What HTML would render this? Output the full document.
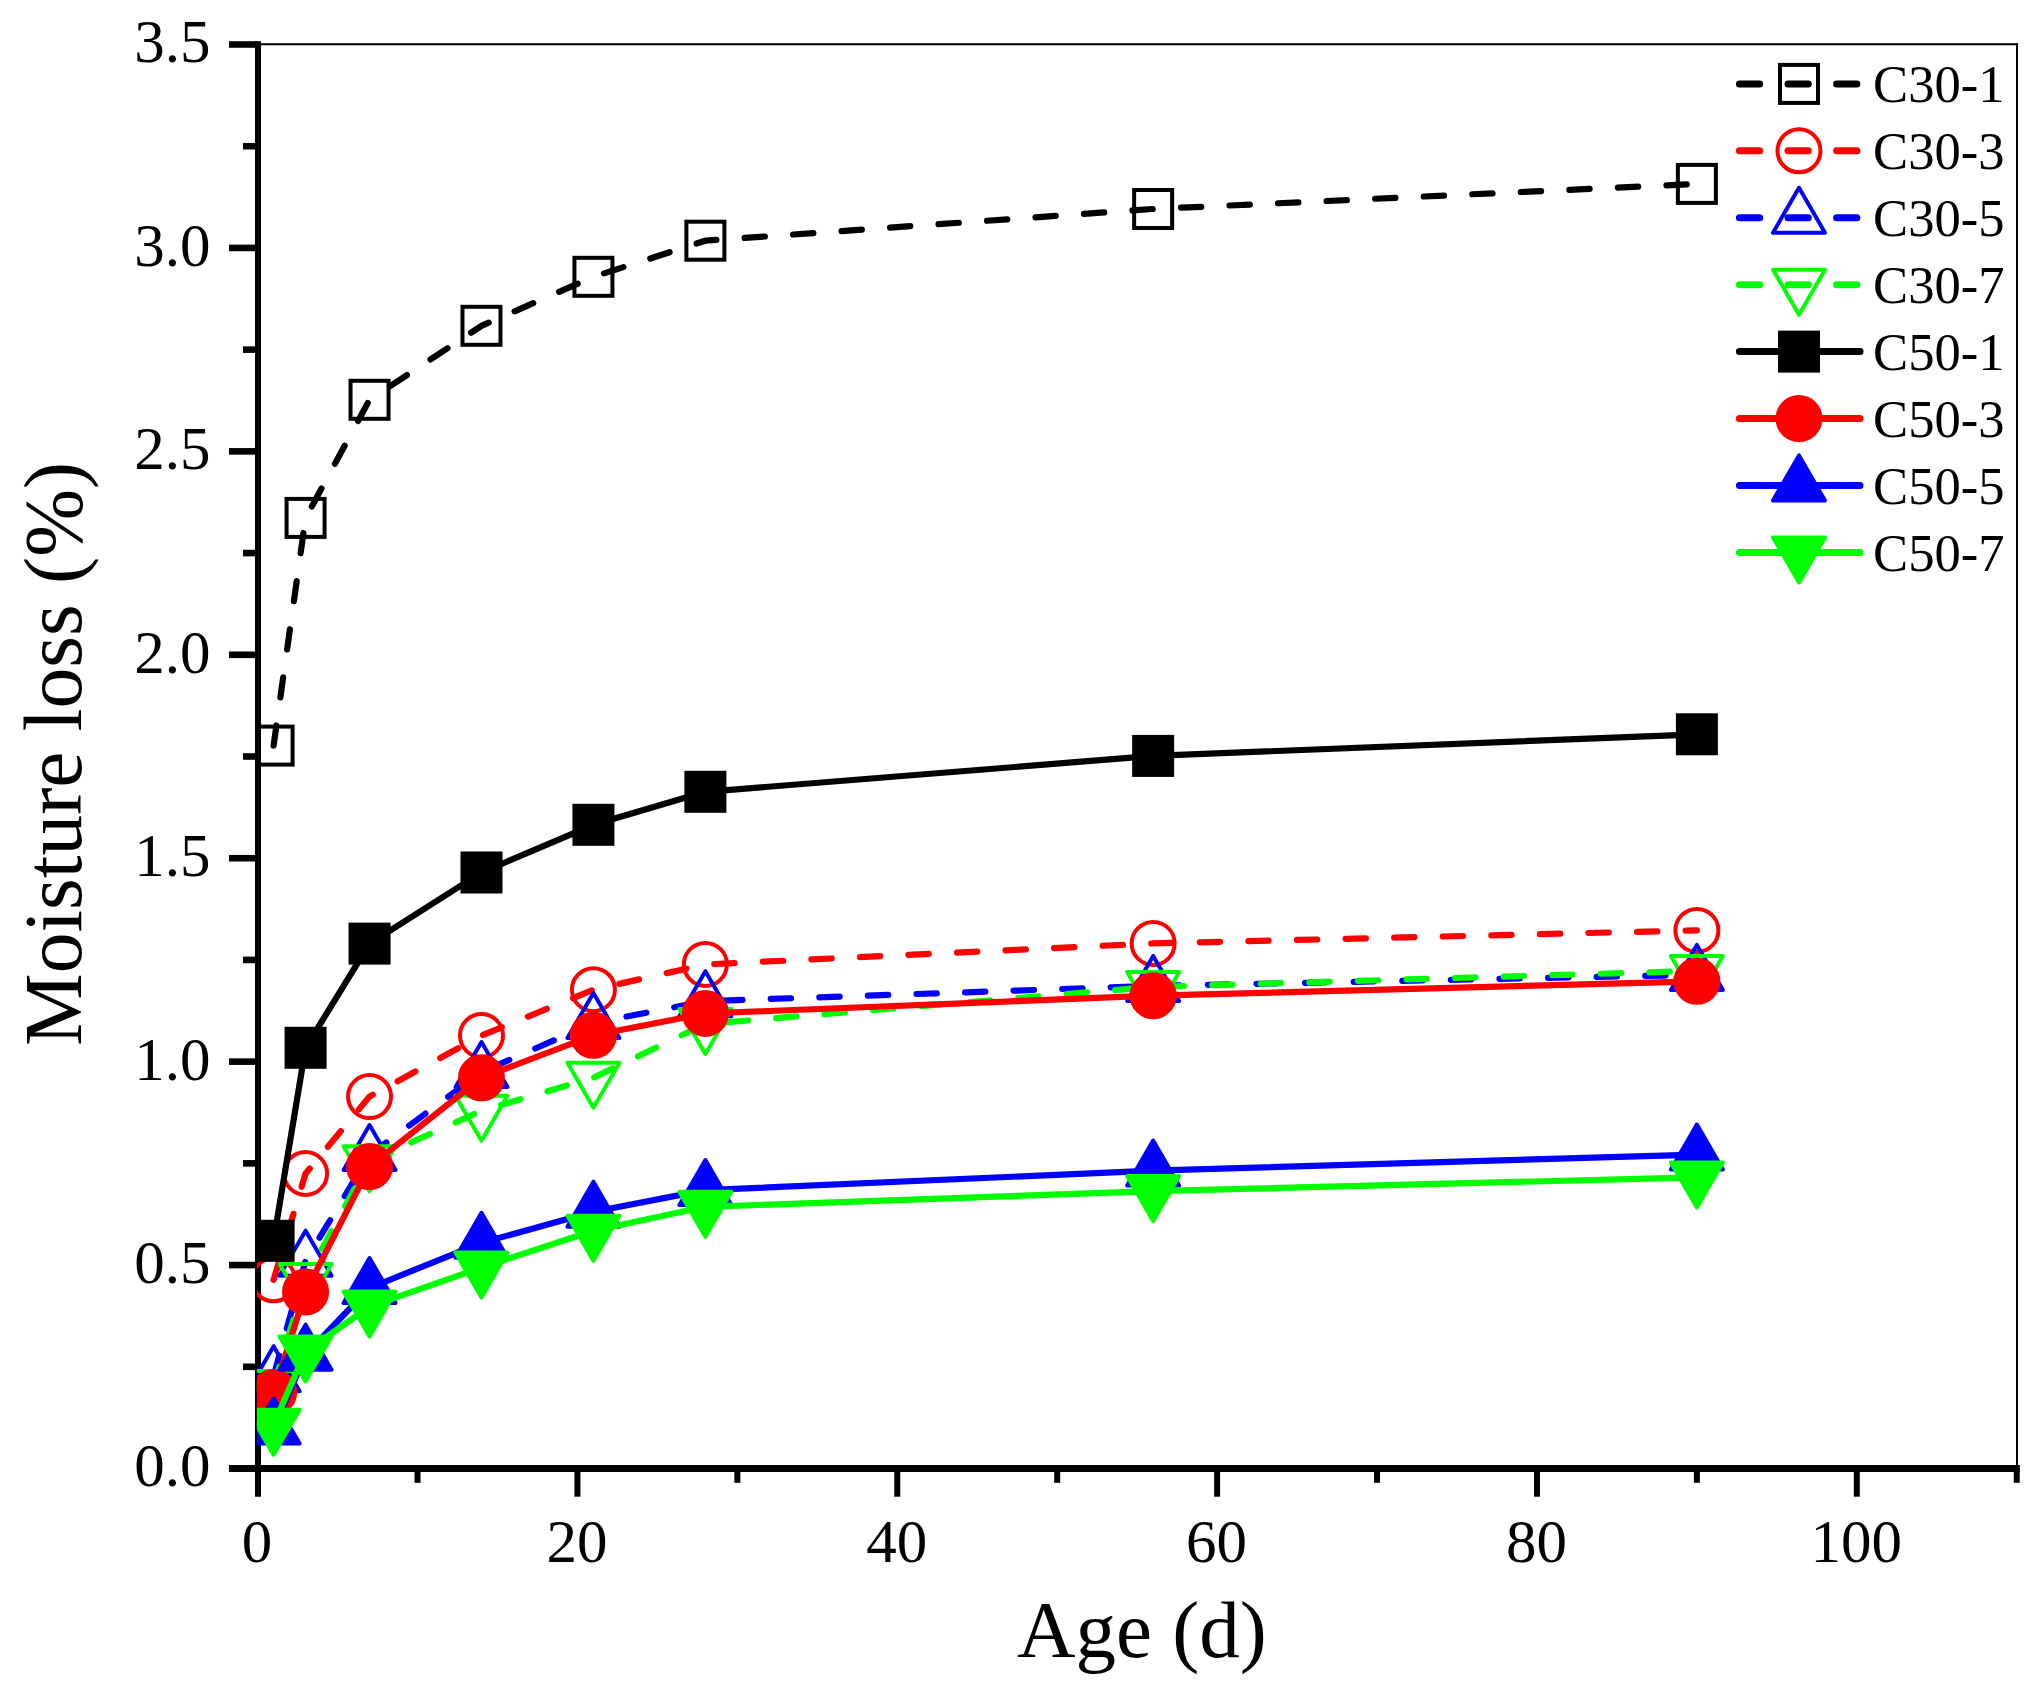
<!DOCTYPE html>
<html><head><meta charset="utf-8"><title>Moisture loss vs Age</title>
<style>
html,body{margin:0;padding:0;background:#fff;}
body{width:2038px;height:1703px;overflow:hidden;}
svg{display:block;}
text{font-family:"Liberation Serif","Times New Roman",serif;fill:#000;}
.tk{font-size:61px;}
.lg{font-size:52.6px;}
.ti{font-size:81px;}
</style></head><body>
<svg width="2038" height="1703" viewBox="0 0 2038 1703">
<rect width="2038" height="1703" fill="#fff"/>
<defs><clipPath id="pc"><rect x="256.8" y="40" width="1761.2" height="1431.5"/></clipPath></defs>

<line x1="258.0" y1="44.3" x2="2018" y2="44.3" stroke="#000" stroke-width="2"/>
<line x1="2017" y1="43.3" x2="2017" y2="1468.5" stroke="#000" stroke-width="2"/>
<line x1="258.0" y1="41.3" x2="258.0" y2="1496.7" stroke="#000" stroke-width="6.0"/>
<line x1="229" y1="1468.5" x2="2019.8" y2="1468.5" stroke="#000" stroke-width="7"/>
<line x1="243" y1="1366.79" x2="258.0" y2="1366.79" stroke="#000" stroke-width="6.6"/>
<line x1="229" y1="1265.07" x2="258.0" y2="1265.07" stroke="#000" stroke-width="6.6"/>
<line x1="243" y1="1163.36" x2="258.0" y2="1163.36" stroke="#000" stroke-width="6.6"/>
<line x1="229" y1="1061.64" x2="258.0" y2="1061.64" stroke="#000" stroke-width="6.6"/>
<line x1="243" y1="959.93" x2="258.0" y2="959.93" stroke="#000" stroke-width="6.6"/>
<line x1="229" y1="858.21" x2="258.0" y2="858.21" stroke="#000" stroke-width="6.6"/>
<line x1="243" y1="756.5" x2="258.0" y2="756.5" stroke="#000" stroke-width="6.6"/>
<line x1="229" y1="654.79" x2="258.0" y2="654.79" stroke="#000" stroke-width="6.6"/>
<line x1="243" y1="553.07" x2="258.0" y2="553.07" stroke="#000" stroke-width="6.6"/>
<line x1="229" y1="451.36" x2="258.0" y2="451.36" stroke="#000" stroke-width="6.6"/>
<line x1="243" y1="349.64" x2="258.0" y2="349.64" stroke="#000" stroke-width="6.6"/>
<line x1="229" y1="247.93" x2="258.0" y2="247.93" stroke="#000" stroke-width="6.6"/>
<line x1="243" y1="146.21" x2="258.0" y2="146.21" stroke="#000" stroke-width="6.6"/>
<line x1="229" y1="44.5" x2="258.0" y2="44.5" stroke="#000" stroke-width="6.6"/>
<text class="tk" x="210.5" y="1486.4" text-anchor="end">0.0</text>
<text class="tk" x="210.5" y="1282.97" text-anchor="end">0.5</text>
<text class="tk" x="210.5" y="1079.54" text-anchor="end">1.0</text>
<text class="tk" x="210.5" y="876.11" text-anchor="end">1.5</text>
<text class="tk" x="210.5" y="672.69" text-anchor="end">2.0</text>
<text class="tk" x="210.5" y="469.26" text-anchor="end">2.5</text>
<text class="tk" x="210.5" y="265.83" text-anchor="end">3.0</text>
<text class="tk" x="210.5" y="62.4" text-anchor="end">3.5</text>
<line x1="417.52" y1="1468.5" x2="417.52" y2="1482.8" stroke="#000" stroke-width="6.0"/>
<line x1="577.44" y1="1468.5" x2="577.44" y2="1496.7" stroke="#000" stroke-width="6.0"/>
<line x1="737.36" y1="1468.5" x2="737.36" y2="1482.8" stroke="#000" stroke-width="6.0"/>
<line x1="897.28" y1="1468.5" x2="897.28" y2="1496.7" stroke="#000" stroke-width="6.0"/>
<line x1="1057.2" y1="1468.5" x2="1057.2" y2="1482.8" stroke="#000" stroke-width="6.0"/>
<line x1="1217.12" y1="1468.5" x2="1217.12" y2="1496.7" stroke="#000" stroke-width="6.0"/>
<line x1="1377.04" y1="1468.5" x2="1377.04" y2="1482.8" stroke="#000" stroke-width="6.0"/>
<line x1="1536.96" y1="1468.5" x2="1536.96" y2="1496.7" stroke="#000" stroke-width="6.0"/>
<line x1="1696.88" y1="1468.5" x2="1696.88" y2="1482.8" stroke="#000" stroke-width="6.0"/>
<line x1="1856.8" y1="1468.5" x2="1856.8" y2="1496.7" stroke="#000" stroke-width="6.0"/>
<line x1="2016.72" y1="1468.5" x2="2016.72" y2="1482.8" stroke="#000" stroke-width="6.0"/>
<text class="tk" x="257.1" y="1562" text-anchor="middle">0</text>
<text class="tk" x="576.94" y="1562" text-anchor="middle">20</text>
<text class="tk" x="896.78" y="1562" text-anchor="middle">40</text>
<text class="tk" x="1216.62" y="1562" text-anchor="middle">60</text>
<text class="tk" x="1536.46" y="1562" text-anchor="middle">80</text>
<text class="tk" x="1856.3" y="1562" text-anchor="middle">100</text>
<g clip-path="url(#pc)">
<polyline points="273.59,745.6 305.58,517.9 369.54,399.8 481.49,325.8 593.43,276.8 705.38,240.7 1153.15,209 1696.88,183.9" fill="none" stroke="#000" stroke-width="6.2" stroke-linecap="round" stroke-linejoin="round" stroke-dasharray="20.3 28.3" stroke-dashoffset="0"/>
<rect x="254.59" y="726.6" width="38" height="38" fill="none" stroke="#000" stroke-width="4.0" stroke-linejoin="miter"/>
<rect x="286.58" y="498.9" width="38" height="38" fill="none" stroke="#000" stroke-width="4.0" stroke-linejoin="miter"/>
<rect x="350.54" y="380.8" width="38" height="38" fill="none" stroke="#000" stroke-width="4.0" stroke-linejoin="miter"/>
<rect x="462.49" y="306.8" width="38" height="38" fill="none" stroke="#000" stroke-width="4.0" stroke-linejoin="miter"/>
<rect x="574.43" y="257.8" width="38" height="38" fill="none" stroke="#000" stroke-width="4.0" stroke-linejoin="miter"/>
<rect x="686.38" y="221.7" width="38" height="38" fill="none" stroke="#000" stroke-width="4.0" stroke-linejoin="miter"/>
<rect x="1134.15" y="190" width="38" height="38" fill="none" stroke="#000" stroke-width="4.0" stroke-linejoin="miter"/>
<rect x="1677.88" y="164.9" width="38" height="38" fill="none" stroke="#000" stroke-width="4.0" stroke-linejoin="miter"/>
<polyline points="273.59,1279.8 305.58,1173.5 369.54,1096.6 481.49,1035.6 593.43,989.7 705.38,964.4 1153.15,943.4 1696.88,930.4" fill="none" stroke="#f00" stroke-width="6.2" stroke-linecap="round" stroke-linejoin="round" stroke-dasharray="20.3 28.3" stroke-dashoffset="0"/>
<circle cx="273.59" cy="1279.8" r="21.5" fill="none" stroke="#f00" stroke-width="4.0" stroke-linejoin="round"/>
<circle cx="305.58" cy="1173.5" r="21.5" fill="none" stroke="#f00" stroke-width="4.0" stroke-linejoin="round"/>
<circle cx="369.54" cy="1096.6" r="21.5" fill="none" stroke="#f00" stroke-width="4.0" stroke-linejoin="round"/>
<circle cx="481.49" cy="1035.6" r="21.5" fill="none" stroke="#f00" stroke-width="4.0" stroke-linejoin="round"/>
<circle cx="593.43" cy="989.7" r="21.5" fill="none" stroke="#f00" stroke-width="4.0" stroke-linejoin="round"/>
<circle cx="705.38" cy="964.4" r="21.5" fill="none" stroke="#f00" stroke-width="4.0" stroke-linejoin="round"/>
<circle cx="1153.15" cy="943.4" r="21.5" fill="none" stroke="#f00" stroke-width="4.0" stroke-linejoin="round"/>
<circle cx="1696.88" cy="930.4" r="21.5" fill="none" stroke="#f00" stroke-width="4.0" stroke-linejoin="round"/>
<polyline points="273.59,1376.2 305.58,1260.7 369.54,1155 481.49,1072.1" fill="none" stroke="#00f" stroke-width="6.2" stroke-linecap="round" stroke-linejoin="round" stroke-dasharray="20.3 28.3" stroke-dashoffset="47.6"/>
<polyline points="481.49,1072.1 593.43,1023 705.38,1001.2 1153.15,985.9 1696.88,974.9" fill="none" stroke="#00f" stroke-width="6.2" stroke-linecap="round" stroke-linejoin="round" stroke-dasharray="20.3 28.3" stroke-dashoffset="38.49"/>
<polygon points="273.59,1346.18 247.59,1391.21 299.59,1391.21" fill="none" stroke="#00f" stroke-width="4.0" stroke-linejoin="round"/>
<polygon points="305.58,1230.68 279.58,1275.71 331.58,1275.71" fill="none" stroke="#00f" stroke-width="4.0" stroke-linejoin="round"/>
<polygon points="369.54,1124.98 343.54,1170.01 395.54,1170.01" fill="none" stroke="#00f" stroke-width="4.0" stroke-linejoin="round"/>
<polygon points="481.49,1042.08 455.49,1087.11 507.49,1087.11" fill="none" stroke="#00f" stroke-width="4.0" stroke-linejoin="round"/>
<polygon points="593.43,992.98 567.43,1038.01 619.43,1038.01" fill="none" stroke="#00f" stroke-width="4.0" stroke-linejoin="round"/>
<polygon points="705.38,971.18 679.38,1016.21 731.38,1016.21" fill="none" stroke="#00f" stroke-width="4.0" stroke-linejoin="round"/>
<polygon points="1153.15,955.88 1127.15,1000.91 1179.15,1000.91" fill="none" stroke="#00f" stroke-width="4.0" stroke-linejoin="round"/>
<polygon points="1696.88,944.88 1670.88,989.91 1722.88,989.91" fill="none" stroke="#00f" stroke-width="4.0" stroke-linejoin="round"/>
<polyline points="273.59,1386 305.58,1279 369.54,1161.2 481.49,1110.8 593.43,1077.7 705.38,1024 1153.15,986.9 1696.88,970.9" fill="none" stroke="#0f0" stroke-width="6.2" stroke-linecap="round" stroke-linejoin="round" stroke-dasharray="20.3 28.3" stroke-dashoffset="0"/>
<polygon points="273.59,1416.02 247.59,1370.99 299.59,1370.99" fill="none" stroke="#0f0" stroke-width="4.0" stroke-linejoin="round"/>
<polygon points="305.58,1309.02 279.58,1263.99 331.58,1263.99" fill="none" stroke="#0f0" stroke-width="4.0" stroke-linejoin="round"/>
<polygon points="369.54,1191.22 343.54,1146.19 395.54,1146.19" fill="none" stroke="#0f0" stroke-width="4.0" stroke-linejoin="round"/>
<polygon points="481.49,1140.82 455.49,1095.79 507.49,1095.79" fill="none" stroke="#0f0" stroke-width="4.0" stroke-linejoin="round"/>
<polygon points="593.43,1107.72 567.43,1062.69 619.43,1062.69" fill="none" stroke="#0f0" stroke-width="4.0" stroke-linejoin="round"/>
<polygon points="705.38,1054.02 679.38,1008.99 731.38,1008.99" fill="none" stroke="#0f0" stroke-width="4.0" stroke-linejoin="round"/>
<polygon points="1153.15,1016.92 1127.15,971.89 1179.15,971.89" fill="none" stroke="#0f0" stroke-width="4.0" stroke-linejoin="round"/>
<polygon points="1696.88,1000.92 1670.88,955.89 1722.88,955.89" fill="none" stroke="#0f0" stroke-width="4.0" stroke-linejoin="round"/>
<polyline points="273.59,1240.8 305.58,1047.8 369.54,943.6 481.49,872.5 593.43,824.8 705.38,791.8 1153.15,755.9 1696.88,734.3" fill="none" stroke="#000" stroke-width="6.2" stroke-linecap="round" stroke-linejoin="round"/>
<rect x="254.59" y="1221.8" width="38" height="38" fill="#000" stroke="#000" stroke-width="4.0" stroke-linejoin="miter"/>
<rect x="286.58" y="1028.8" width="38" height="38" fill="#000" stroke="#000" stroke-width="4.0" stroke-linejoin="miter"/>
<rect x="350.54" y="924.6" width="38" height="38" fill="#000" stroke="#000" stroke-width="4.0" stroke-linejoin="miter"/>
<rect x="462.49" y="853.5" width="38" height="38" fill="#000" stroke="#000" stroke-width="4.0" stroke-linejoin="miter"/>
<rect x="574.43" y="805.8" width="38" height="38" fill="#000" stroke="#000" stroke-width="4.0" stroke-linejoin="miter"/>
<rect x="686.38" y="772.8" width="38" height="38" fill="#000" stroke="#000" stroke-width="4.0" stroke-linejoin="miter"/>
<rect x="1134.15" y="736.9" width="38" height="38" fill="#000" stroke="#000" stroke-width="4.0" stroke-linejoin="miter"/>
<rect x="1677.88" y="715.3" width="38" height="38" fill="#000" stroke="#000" stroke-width="4.0" stroke-linejoin="miter"/>
<polyline points="273.59,1392.5 305.58,1291.9 369.54,1166.6 481.49,1077.8 593.43,1035.3 705.38,1013.5 1153.15,995.7 1696.88,981.3" fill="none" stroke="#f00" stroke-width="6.2" stroke-linecap="round" stroke-linejoin="round"/>
<circle cx="273.59" cy="1392.5" r="21.5" fill="#f00" stroke="#f00" stroke-width="4.0" stroke-linejoin="round"/>
<circle cx="305.58" cy="1291.9" r="21.5" fill="#f00" stroke="#f00" stroke-width="4.0" stroke-linejoin="round"/>
<circle cx="369.54" cy="1166.6" r="21.5" fill="#f00" stroke="#f00" stroke-width="4.0" stroke-linejoin="round"/>
<circle cx="481.49" cy="1077.8" r="21.5" fill="#f00" stroke="#f00" stroke-width="4.0" stroke-linejoin="round"/>
<circle cx="593.43" cy="1035.3" r="21.5" fill="#f00" stroke="#f00" stroke-width="4.0" stroke-linejoin="round"/>
<circle cx="705.38" cy="1013.5" r="21.5" fill="#f00" stroke="#f00" stroke-width="4.0" stroke-linejoin="round"/>
<circle cx="1153.15" cy="995.7" r="21.5" fill="#f00" stroke="#f00" stroke-width="4.0" stroke-linejoin="round"/>
<circle cx="1696.88" cy="981.3" r="21.5" fill="#f00" stroke="#f00" stroke-width="4.0" stroke-linejoin="round"/>
<polyline points="273.59,1428.5 305.58,1354.7 369.54,1288 481.49,1242.8 593.43,1211.7 705.38,1190.1 1153.15,1170.6 1696.88,1154.6" fill="none" stroke="#00f" stroke-width="6.2" stroke-linecap="round" stroke-linejoin="round"/>
<polygon points="273.59,1398.48 247.59,1443.51 299.59,1443.51" fill="#00f" stroke="#00f" stroke-width="4.0" stroke-linejoin="round"/>
<polygon points="305.58,1324.68 279.58,1369.71 331.58,1369.71" fill="#00f" stroke="#00f" stroke-width="4.0" stroke-linejoin="round"/>
<polygon points="369.54,1257.98 343.54,1303.01 395.54,1303.01" fill="#00f" stroke="#00f" stroke-width="4.0" stroke-linejoin="round"/>
<polygon points="481.49,1212.78 455.49,1257.81 507.49,1257.81" fill="#00f" stroke="#00f" stroke-width="4.0" stroke-linejoin="round"/>
<polygon points="593.43,1181.68 567.43,1226.71 619.43,1226.71" fill="#00f" stroke="#00f" stroke-width="4.0" stroke-linejoin="round"/>
<polygon points="705.38,1160.08 679.38,1205.11 731.38,1205.11" fill="#00f" stroke="#00f" stroke-width="4.0" stroke-linejoin="round"/>
<polygon points="1153.15,1140.58 1127.15,1185.61 1179.15,1185.61" fill="#00f" stroke="#00f" stroke-width="4.0" stroke-linejoin="round"/>
<polygon points="1696.88,1124.58 1670.88,1169.61 1722.88,1169.61" fill="#00f" stroke="#00f" stroke-width="4.0" stroke-linejoin="round"/>
<polyline points="273.59,1424.8 305.58,1351.6 369.54,1306.6 481.49,1267.6 593.43,1230.7 705.38,1206.8 1153.15,1191.1 1696.88,1177.4" fill="none" stroke="#0f0" stroke-width="6.2" stroke-linecap="round" stroke-linejoin="round"/>
<polygon points="273.59,1454.82 247.59,1409.79 299.59,1409.79" fill="#0f0" stroke="#0f0" stroke-width="4.0" stroke-linejoin="round"/>
<polygon points="305.58,1381.62 279.58,1336.59 331.58,1336.59" fill="#0f0" stroke="#0f0" stroke-width="4.0" stroke-linejoin="round"/>
<polygon points="369.54,1336.62 343.54,1291.59 395.54,1291.59" fill="#0f0" stroke="#0f0" stroke-width="4.0" stroke-linejoin="round"/>
<polygon points="481.49,1297.62 455.49,1252.59 507.49,1252.59" fill="#0f0" stroke="#0f0" stroke-width="4.0" stroke-linejoin="round"/>
<polygon points="593.43,1260.72 567.43,1215.69 619.43,1215.69" fill="#0f0" stroke="#0f0" stroke-width="4.0" stroke-linejoin="round"/>
<polygon points="705.38,1236.82 679.38,1191.79 731.38,1191.79" fill="#0f0" stroke="#0f0" stroke-width="4.0" stroke-linejoin="round"/>
<polygon points="1153.15,1221.12 1127.15,1176.09 1179.15,1176.09" fill="#0f0" stroke="#0f0" stroke-width="4.0" stroke-linejoin="round"/>
<polygon points="1696.88,1207.42 1670.88,1162.39 1722.88,1162.39" fill="#0f0" stroke="#0f0" stroke-width="4.0" stroke-linejoin="round"/>
</g>
<text class="ti" x="1017" y="1656.6">Age (d)</text>
<text class="ti" style="font-size:81.5px" transform="translate(81,1045.8) rotate(-90)">Moisture loss (%)</text>
<line x1="1739.4" y1="83.9" x2="1860" y2="83.9" stroke="#000" stroke-width="7" stroke-linecap="round" stroke-dasharray="20.3 28.3"/>
<rect x="1780" y="64.9" width="38" height="38" fill="none" stroke="#000" stroke-width="4.0" stroke-linejoin="miter"/>
<text class="lg" x="1873.1" y="102.1">C30-1</text>
<line x1="1739.4" y1="150.83" x2="1860" y2="150.83" stroke="#f00" stroke-width="7" stroke-linecap="round" stroke-dasharray="20.3 28.3"/>
<circle cx="1799" cy="150.83" r="21.5" fill="none" stroke="#f00" stroke-width="4.0" stroke-linejoin="round"/>
<text class="lg" x="1873.1" y="169.03">C30-3</text>
<line x1="1739.4" y1="217.76" x2="1860" y2="217.76" stroke="#00f" stroke-width="7" stroke-linecap="round" stroke-dasharray="20.3 28.3"/>
<polygon points="1799,187.74 1773,232.77 1825,232.77" fill="none" stroke="#00f" stroke-width="4.0" stroke-linejoin="round"/>
<text class="lg" x="1873.1" y="235.96">C30-5</text>
<line x1="1739.4" y1="284.69" x2="1860" y2="284.69" stroke="#0f0" stroke-width="7" stroke-linecap="round" stroke-dasharray="20.3 28.3"/>
<polygon points="1799,314.71 1773,269.68 1825,269.68" fill="none" stroke="#0f0" stroke-width="4.0" stroke-linejoin="round"/>
<text class="lg" x="1873.1" y="302.89">C30-7</text>
<line x1="1739.4" y1="351.62" x2="1860" y2="351.62" stroke="#000" stroke-width="7" stroke-linecap="round"/>
<rect x="1780" y="332.62" width="38" height="38" fill="#000" stroke="#000" stroke-width="4.0" stroke-linejoin="miter"/>
<text class="lg" x="1873.1" y="369.82">C50-1</text>
<line x1="1739.4" y1="418.55" x2="1860" y2="418.55" stroke="#f00" stroke-width="7" stroke-linecap="round"/>
<circle cx="1799" cy="418.55" r="21.5" fill="#f00" stroke="#f00" stroke-width="4.0" stroke-linejoin="round"/>
<text class="lg" x="1873.1" y="436.75">C50-3</text>
<line x1="1739.4" y1="485.48" x2="1860" y2="485.48" stroke="#00f" stroke-width="7" stroke-linecap="round"/>
<polygon points="1799,455.46 1773,500.49 1825,500.49" fill="#00f" stroke="#00f" stroke-width="4.0" stroke-linejoin="round"/>
<text class="lg" x="1873.1" y="503.68">C50-5</text>
<line x1="1739.4" y1="552.41" x2="1860" y2="552.41" stroke="#0f0" stroke-width="7" stroke-linecap="round"/>
<polygon points="1799,582.43 1773,537.4 1825,537.4" fill="#0f0" stroke="#0f0" stroke-width="4.0" stroke-linejoin="round"/>
<text class="lg" x="1873.1" y="570.61">C50-7</text>
</svg></body></html>
